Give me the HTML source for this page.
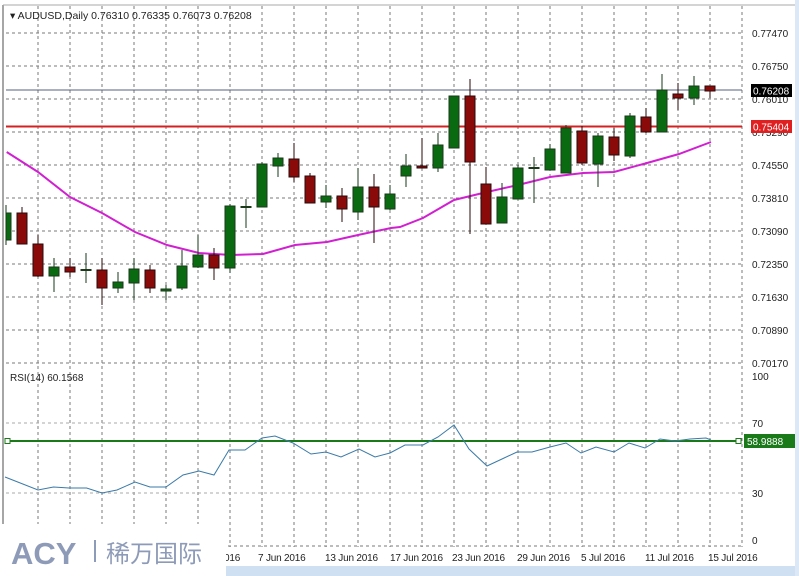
<!DOCTYPE html>
<html><head><meta charset="utf-8"><style>
html,body{margin:0;padding:0;background:#fff;}
svg{display:block;font-family:"Liberation Sans","Noto Sans CJK SC",sans-serif;}
</style></head><body>
<svg width="799" height="576" viewBox="0 0 799 576" xmlns="http://www.w3.org/2000/svg">
<rect x="0" y="0" width="799" height="576" fill="#fff"/>
<rect x="0" y="566" width="799" height="10" fill="#cfe0f2"/>
<rect x="795" y="0" width="4" height="576" fill="#dce8f5"/>
<line x1="3" y1="5" x2="3" y2="566" stroke="#888" stroke-width="1.5"/>
<line x1="3" y1="5" x2="795" y2="5" stroke="#aaa"/>
<g stroke="#7a7a7a" stroke-width="1" stroke-dasharray="3,3">
<line x1="38" y1="6" x2="38" y2="547"/><line x1="70" y1="6" x2="70" y2="547"/><line x1="102" y1="6" x2="102" y2="547"/><line x1="134" y1="6" x2="134" y2="547"/><line x1="166" y1="6" x2="166" y2="547"/><line x1="198" y1="6" x2="198" y2="547"/><line x1="230" y1="6" x2="230" y2="547"/><line x1="262" y1="6" x2="262" y2="547"/><line x1="294" y1="6" x2="294" y2="547"/><line x1="326" y1="6" x2="326" y2="547"/><line x1="358" y1="6" x2="358" y2="547"/><line x1="390" y1="6" x2="390" y2="547"/><line x1="422" y1="6" x2="422" y2="547"/><line x1="454" y1="6" x2="454" y2="547"/><line x1="486" y1="6" x2="486" y2="547"/><line x1="518" y1="6" x2="518" y2="547"/><line x1="550" y1="6" x2="550" y2="547"/><line x1="582" y1="6" x2="582" y2="547"/><line x1="614" y1="6" x2="614" y2="547"/><line x1="646" y1="6" x2="646" y2="547"/><line x1="678" y1="6" x2="678" y2="547"/><line x1="710" y1="6" x2="710" y2="547"/><line x1="742" y1="6" x2="742" y2="547"/>
<line x1="6" y1="33" x2="742" y2="33"/><line x1="6" y1="66" x2="742" y2="66"/><line x1="6" y1="99" x2="742" y2="99"/><line x1="6" y1="132" x2="742" y2="132"/><line x1="6" y1="165" x2="742" y2="165"/><line x1="6" y1="198" x2="742" y2="198"/><line x1="6" y1="231" x2="742" y2="231"/><line x1="6" y1="264" x2="742" y2="264"/><line x1="6" y1="297" x2="742" y2="297"/><line x1="6" y1="330" x2="742" y2="330"/><line x1="6" y1="363" x2="742" y2="363"/>
<line x1="6" y1="423" x2="742" y2="423" stroke="#aaa"/><line x1="6" y1="493" x2="742" y2="493" stroke="#aaa"/><line x1="6" y1="546" x2="742" y2="546"/>
</g>
<g font-size="10" fill="#222">
<text x="752" y="37">0.77470</text><text x="752" y="70">0.76750</text><text x="752" y="103">0.76010</text><text x="752" y="136">0.75290</text><text x="752" y="169">0.74550</text><text x="752" y="202">0.73810</text><text x="752" y="235">0.73090</text><text x="752" y="268">0.72350</text><text x="752" y="301">0.71630</text><text x="752" y="334">0.70890</text><text x="752" y="367">0.70170</text>
<text x="752" y="380">100</text><text x="752" y="427">70</text><text x="752" y="497">30</text><text x="752" y="544">0</text>
</g>
<line x1="6" y1="90" x2="742" y2="90" stroke="#556080" stroke-width="1"/>
<line x1="6" y1="126.5" x2="742" y2="126.5" stroke="#d42020" stroke-width="2"/>
<rect x="751" y="84" width="41" height="13" fill="#000"/>
<text x="753" y="94.5" font-size="10" fill="#fff">0.76208</text>
<rect x="751" y="120" width="41" height="13" fill="#e02020"/>
<text x="753" y="130.5" font-size="10" fill="#fff">0.75404</text>
<polyline fill="none" stroke="#d020d0" stroke-width="2" points="6.7,152 38,172 70,197 102,213 135,232 167,245 199,253 231,255 263,254 295,245 327,242 358,235 391,228 400,227 423,218 454,200 487,192 518,185 550,177 583,173 614,172 647,163 679,154 711,142"/>
<g stroke-width="1">
<g stroke="#1a3a1a" fill="#0a6a12">
<line x1="6" y1="205" x2="6" y2="245"/><rect x="6" y="213" width="5" height="27"/>
<line x1="54" y1="258" x2="54" y2="292"/><rect x="49" y="267" width="10" height="9"/>
<line x1="86" y1="253" x2="86" y2="283"/><rect x="81" y="269.5" width="10" height="1"/>
<line x1="118" y1="272" x2="118" y2="293"/><rect x="113" y="282" width="10" height="6"/>
<line x1="134" y1="258" x2="134" y2="300"/><rect x="129" y="269" width="10" height="14"/>
<line x1="166" y1="285" x2="166" y2="300"/><rect x="161" y="289" width="10" height="2"/>
<line x1="182" y1="250" x2="182" y2="290"/><rect x="177" y="266" width="10" height="22"/>
<line x1="198" y1="235" x2="198" y2="268"/><rect x="193" y="255" width="10" height="12"/>
<line x1="230" y1="204" x2="230" y2="273"/><rect x="225" y="206" width="10" height="62"/>
<line x1="246" y1="199" x2="246" y2="228"/><rect x="241" y="206.5" width="10" height="1"/>
<line x1="262" y1="162" x2="262" y2="207"/><rect x="257" y="164" width="10" height="43"/>
<line x1="278" y1="153" x2="278" y2="177"/><rect x="273" y="158" width="10" height="8"/>
<line x1="326" y1="185" x2="326" y2="208"/><rect x="321" y="196" width="10" height="6"/>
<line x1="358" y1="168" x2="358" y2="220"/><rect x="353" y="187" width="10" height="25"/>
<line x1="390" y1="185" x2="390" y2="210"/><rect x="385" y="194" width="10" height="15"/>
<line x1="406" y1="154" x2="406" y2="187"/><rect x="401" y="166" width="10" height="10"/>
<line x1="438" y1="133" x2="438" y2="172"/><rect x="433" y="145" width="10" height="23"/>
<line x1="454" y1="96" x2="454" y2="148"/><rect x="449" y="96" width="10" height="52"/>
<line x1="502" y1="183" x2="502" y2="223"/><rect x="497" y="197" width="10" height="26"/>
<line x1="518" y1="165" x2="518" y2="199"/><rect x="513" y="168" width="10" height="31"/>
<line x1="534" y1="157" x2="534" y2="203"/><rect x="529" y="167.5" width="10" height="1"/>
<line x1="550" y1="144" x2="550" y2="170"/><rect x="545" y="149" width="10" height="21"/>
<line x1="566" y1="125" x2="566" y2="173"/><rect x="561" y="128" width="10" height="45"/>
<line x1="598" y1="133" x2="598" y2="187"/><rect x="593" y="136" width="10" height="28"/>
<line x1="630" y1="113" x2="630" y2="158"/><rect x="625" y="116" width="10" height="40"/>
<line x1="662" y1="74" x2="662" y2="132"/><rect x="657" y="90" width="10" height="42"/>
<line x1="694" y1="76" x2="694" y2="105"/><rect x="689" y="86" width="10" height="12"/>
</g>
<g stroke="#2a0a0a" fill="#8a0a0a">
<line x1="22" y1="207" x2="22" y2="244"/><rect x="17" y="213" width="10" height="31"/>
<line x1="38" y1="235" x2="38" y2="277"/><rect x="33" y="244" width="10" height="32"/>
<line x1="70" y1="258" x2="70" y2="277"/><rect x="65" y="267" width="10" height="5"/>
<line x1="102" y1="258" x2="102" y2="305"/><rect x="97" y="270" width="10" height="18"/>
<line x1="150" y1="265" x2="150" y2="293"/><rect x="145" y="270" width="10" height="18"/>
<line x1="214" y1="248" x2="214" y2="280"/><rect x="209" y="255" width="10" height="13"/>
<line x1="294" y1="143" x2="294" y2="182"/><rect x="289" y="159" width="10" height="18"/>
<line x1="310" y1="173" x2="310" y2="203"/><rect x="305" y="176" width="10" height="27"/>
<line x1="342" y1="188" x2="342" y2="222"/><rect x="337" y="196" width="10" height="13"/>
<line x1="374" y1="174" x2="374" y2="243"/><rect x="369" y="187" width="10" height="20"/>
<line x1="422" y1="138" x2="422" y2="168"/><rect x="417" y="166" width="10" height="2"/>
<line x1="470" y1="79" x2="470" y2="234"/><rect x="465" y="96" width="10" height="66"/>
<line x1="486" y1="167" x2="486" y2="224"/><rect x="481" y="184" width="10" height="40"/>
<line x1="582" y1="126" x2="582" y2="165"/><rect x="577" y="131" width="10" height="32"/>
<line x1="614" y1="128" x2="614" y2="161"/><rect x="609" y="137" width="10" height="18"/>
<line x1="646" y1="108" x2="646" y2="133"/><rect x="641" y="117" width="10" height="15"/>
<line x1="678" y1="83" x2="678" y2="110"/><rect x="673" y="94" width="10" height="4"/>
<line x1="710" y1="86" x2="710" y2="98"/><rect x="705" y="86" width="10" height="5"/>
</g>
</g>
<text x="10" y="19" font-size="10.5" fill="#222">▾ AUDUSD,Daily  0.76310 0.76335 0.76073 0.76208</text>
<text x="10" y="381" font-size="10" fill="#222">RSI(14) 60.1568</text>
<line x1="7" y1="441" x2="739" y2="441" stroke="#1a7a1a" stroke-width="2"/>
<rect x="5" y="438.5" width="5" height="5" fill="#fff" stroke="#1a7a1a"/>
<rect x="736" y="438.5" width="5" height="5" fill="#fff" stroke="#1a7a1a"/>
<rect x="744" y="434" width="51" height="14" fill="#1a7a1a"/>
<text x="747" y="445" font-size="10" fill="#fff">58.9888</text>
<polyline fill="none" stroke="#3a7aa8" stroke-width="1" points="5,477 38,490 53.5,487 69,488 86.6,488 102,493 117,490 135,482 150,487 166,487 183,475 199,471 214,475 229,450 245,450 262,438 275,436 293,443 311,454 326,452 341,457 359,449 375,457 390,453 405,445 423,445 438,437 454,425 469,449 487,466 502,459 517,452 532,452 550,447 566,443 581,453 596,447 614,452 629,443 645,448 660,439 675,441 690,439 706,438 711,440"/>
<g font-size="10" fill="#222" letter-spacing="-0.2">
<text x="224" y="561">016</text><text x="258" y="561">7 Jun 2016</text><text x="325" y="561">13 Jun 2016</text><text x="390" y="561">17 Jun 2016</text><text x="452" y="561">23 Jun 2016</text><text x="517" y="561">29 Jun 2016</text><text x="581" y="561">5 Jul 2016</text><text x="645" y="561">11 Jul 2016</text><text x="708" y="561">15 Jul 2016</text>
</g>
<rect x="0" y="524" width="226" height="52" fill="#fff"/>
<text x="11" y="564" font-size="31" font-weight="bold" fill="#8e9bb8">ACY</text>
<rect x="94" y="540" width="2" height="22" fill="#8e9bb8"/>
<text x="106" y="562" font-size="24" fill="#8e9bb8" font-family="Noto Sans CJK SC, sans-serif">稀万国际</text>
</svg>
</body></html>
